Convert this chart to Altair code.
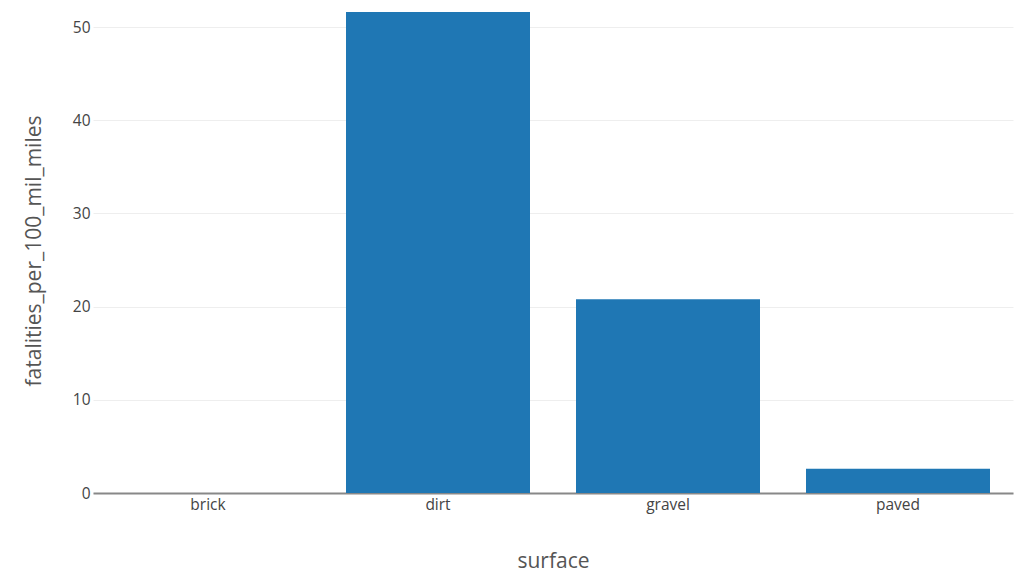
import altair as alt
import pandas as pd

surfaces = ["brick", "dirt", "gravel", "paved"]
fatalities = [0.0, 51.6, 20.8, 2.6]

df = pd.DataFrame({"surface": surfaces, "fatalities_per_100_mil_miles": fatalities})

font = "Open Sans"

chart = alt.Chart(df).mark_bar(color="#1f77b4").encode(
    x=alt.X(
        "surface:N",
        sort=surfaces,
        scale=alt.Scale(paddingInner=0.2, paddingOuter=0.1),
        axis=alt.Axis(
            title="surface", labelAngle=0, ticks=False, grid=False,
            domainColor="#888888", domainWidth=2,
            labelFont=font, labelFontSize=15.5, labelColor="#444444", labelPadding=4,
            titleFont=font, titleFontSize=21, titleColor="#555555", titleFontWeight="normal",
            titlePadding=38,
        ),
    ),
    y=alt.Y(
        "fatalities_per_100_mil_miles:Q",
        scale=alt.Scale(domain=[0, 52.04], nice=False, zero=True),
        axis=alt.Axis(
            title="fatalities_per_100_mil_miles", values=[0, 10, 20, 30, 40, 50],
            ticks=False, domain=False, gridColor="#eeeeee", gridWidth=1,
            labelFont=font, labelFontSize=15.5, labelColor="#444444", labelPadding=3,
            titleFont=font, titleFontSize=21, titleColor="#555555", titleFontWeight="normal",
            titlePadding=28,
        ),
    ),
).properties(
    width=920, height=485,
    autosize="none",
    padding={"left": 85, "top": 0, "right": 4, "bottom": 80},
).configure_view(stroke=None)

chart.save("out.html", embed_options={"renderer": "svg", "actions": False})
